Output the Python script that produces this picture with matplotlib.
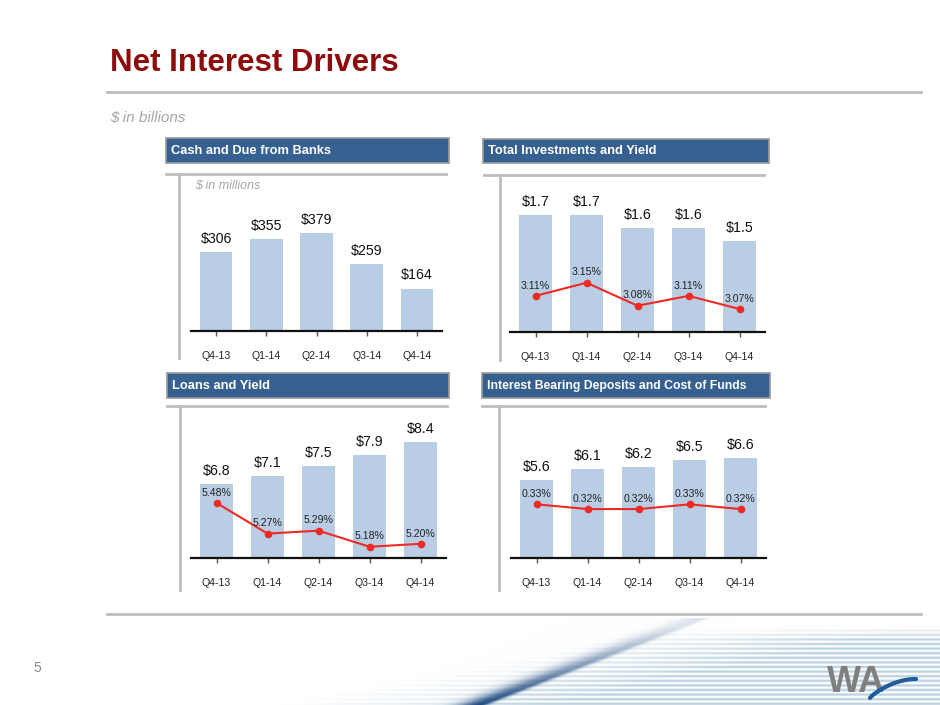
#!/usr/bin/env python
"""Net interest drivers: four small bar/line panels on one slide"""

import numpy as np
import matplotlib
matplotlib.use("Agg")
import matplotlib.pyplot as plt
from matplotlib.patches import Rectangle

plt.rcParams['font.family'] = ['Liberation Sans', 'DejaVu Sans']

W, H = 940, 705

quarters = ["Q4-13", "Q1-14", "Q2-14", "Q3-14", "Q4-14"]
cash_due = [306, 355, 379, 259, 164]
investments = [1.7, 1.7, 1.6, 1.6, 1.5]
invest_yield = [3.11, 3.15, 3.08, 3.11, 3.07]
loans = [6.8, 7.1, 7.5, 7.9, 8.4]
loan_yield = [5.48, 5.27, 5.29, 5.18, 5.20]
deposits = [5.6, 6.1, 6.2, 6.5, 6.6]
cost_of_funds = [0.33, 0.32, 0.32, 0.33, 0.32]

BAR = '#B9CDE5'
RED = '#EE2A24'
HEAD = '#36608F'
GRAY = '#BDBDBD'


def px_axes(fig, x0, y0, x1, y1):
    return fig.add_axes([x0 / W, 1 - y1 / H, (x1 - x0) / W, (y1 - y0) / H])


def footer_swoosh(ax):
    # decorative streak + stripes in the bottom right corner
    x0, x1, y0, y1 = 280, 940, 618, 705
    xs = np.arange(x0, x1) + 0.5
    ys = np.arange(y0, y1) + 0.5
    X, Y = np.meshgrid(xs, ys)
    xline = 480 + (705 - Y) * (187 / 73.0)
    d = X - xline
    fy = np.clip((Y - 625) / 80.0, 0, 1)
    core = np.where(d < 0, np.exp(-(d / 22.0) ** 2), np.exp(-(d / 7.0) ** 2))
    streak = core * (0.15 + 0.8 * fy ** 1.2)
    yb = 705 - (X - 300) * 83 / 400.0
    region = np.clip((Y - yb + 5) / 55.0, 0, 1) * np.clip((Y - 626) / 14.0, 0, 1)
    region = region * np.where(d > 0, 1.0, 0.7)
    stripes = 0.5 + 0.5 * np.cos(2 * np.pi * Y / 4.6)
    stripe_a = stripes * region * 0.6
    dark = np.array([0.10, 0.27, 0.48])
    light = np.array([0.55, 0.70, 0.80])
    img = np.ones(X.shape + (3,))
    for a, c in ((stripe_a, light), (streak, dark)):
        img = img * (1 - a[..., None]) + c * a[..., None]
    ax.imshow(img, extent=(x0, x1, y1, y0), interpolation='bilinear', zorder=0)
    ax.text(827, 683, "WA", fontsize=26, fontweight='bold', color='#7F7F7F',
            ha='left', va='center', zorder=3)
    t = np.linspace(0, 1, 30)
    ax.plot(870 + 46 * t, 698 - 19 * np.sin(t * np.pi / 2) ** 0.8,
            color='#1F5C99', lw=3, zorder=4, solid_capstyle='round')


def panel(fig, over, title, box, frame, area, labels, bars, bar_fmt, ylim,
          rate=None, rate_lim=None, note=None, title_size=9.3):
    bx0, by0, bx1, by1 = box
    over.add_patch(Rectangle((bx0, by0), bx1 - bx0, by1 - by0, facecolor=HEAD,
                             edgecolor='#9A9A9A', lw=1.2, zorder=2))
    over.text(bx0 + 5, (by0 + by1) / 2 + 0.5, title, color='white',
              fontsize=title_size, fontweight='bold', va='center', ha='left',
              zorder=3)
    hx0, hx1, hy, vx, vy1 = frame
    over.plot([hx0, hx1], [hy, hy], color=GRAY, lw=2, zorder=1)
    over.plot([vx, vx], [hy, vy1], color=GRAY, lw=2, zorder=1)
    if note:
        over.text(vx + 16, hy + 12, note, color='#A6A6A6', fontsize=9,
                  style='italic', va='center', ha='left')

    ax = px_axes(fig, *area)
    ax.set_facecolor('none')
    x = np.arange(len(labels))
    ax.bar(x, bars, width=0.65, bottom=0, color=BAR, zorder=1)
    ax.set_ylim(*ylim)
    ax.set_xlim(-0.5, len(labels) - 0.5)
    for i, v in enumerate(bars):
        ax.annotate(bar_fmt.format(v), (i, v), xytext=(0, 9.5),
                    textcoords='offset points', ha='center', va='center',
                    fontsize=10.2, color='#111111')
    for s in ('left', 'right', 'top'):
        ax.spines[s].set_visible(False)
    ax.spines['bottom'].set_linewidth(1.6)
    ax.spines['bottom'].set_color('#111111')
    ax.spines['bottom'].set_zorder(5)
    ax.set_yticks([])
    ax.set_xticks(x)
    ax.set_xticklabels(labels, fontsize=7.6, color='#222222')
    ax.tick_params(axis='x', direction='out', length=3.6, width=1,
                   color='#555555', pad=10.5)

    if rate is not None:
        ax2 = ax.twinx()
        ax2.set_ylim(*rate_lim)
        ax2.plot(x, rate, color=RED, lw=1.5, marker='o', ms=4.5, zorder=3)
        for i, v in enumerate(rate):
            ax2.annotate("{:.2f}%".format(v), (i, v), xytext=(0, 7.4),
                         textcoords='offset points', ha='center', va='center',
                         fontsize=7.6, color='#222222')
        ax2.set_yticks([])
        for s in ax2.spines.values():
            s.set_visible(False)
    return ax


def _main():
    fig = plt.figure(figsize=(W / 100, H / 100), dpi=100)
    over = fig.add_axes([0, 0, 1, 1])
    over.set_xlim(0, W)
    over.set_ylim(H, 0)
    over.axis('off')

    over.text(110, 63, "Net Interest Drivers", fontsize=22.5, fontweight='bold',
              color='#8E0B0B', va='center', ha='left')
    over.plot([107, 921], [92, 92], color=GRAY, lw=2)
    over.text(110, 118, "$ in billions", fontsize=11, style='italic',
              color='#A6A6A6', va='center', ha='left')
    over.plot([107, 921], [614, 614], color=GRAY, lw=2)
    over.text(37, 668, "5", fontsize=10, color='#8A8A8A', va='center', ha='center')
    footer_swoosh(over)

    panel(fig, over, "Cash and Due from Banks", (166, 138, 449, 163),
          (166, 446, 174, 179, 358), (191, 174, 442, 331), quarters, cash_due,
          "${:.0f}", (0, 608), note="$ in millions")
    panel(fig, over, "Total Investments and Yield", (483, 139, 769, 163),
          (484, 764, 175, 500, 360), (510, 175, 765, 332), quarters, investments,
          "${:.1f}", (0.8, 2.008), invest_yield, (3.0, 3.478))
    panel(fig, over, "Loans and Yield", (167, 373, 449, 398),
          (167, 447, 406, 180, 590), (191, 406, 446, 558), quarters, loans,
          "${:.1f}", (4.0, 9.77), loan_yield, (5.103, 6.143))
    panel(fig, over, "Interest Bearing Deposits and Cost of Funds",
          (482, 373, 770, 398), (482, 765, 406, 499, 590), (511, 406, 766, 558),
          quarters, deposits, "${:.1f}", (2.0, 9.0), cost_of_funds,
          (0.216, 0.539), title_size=8.8)

    fig.savefig("out.png", dpi=100)
    plt.close(fig)
    return 0


if __name__ == "__main__":
    _main()
